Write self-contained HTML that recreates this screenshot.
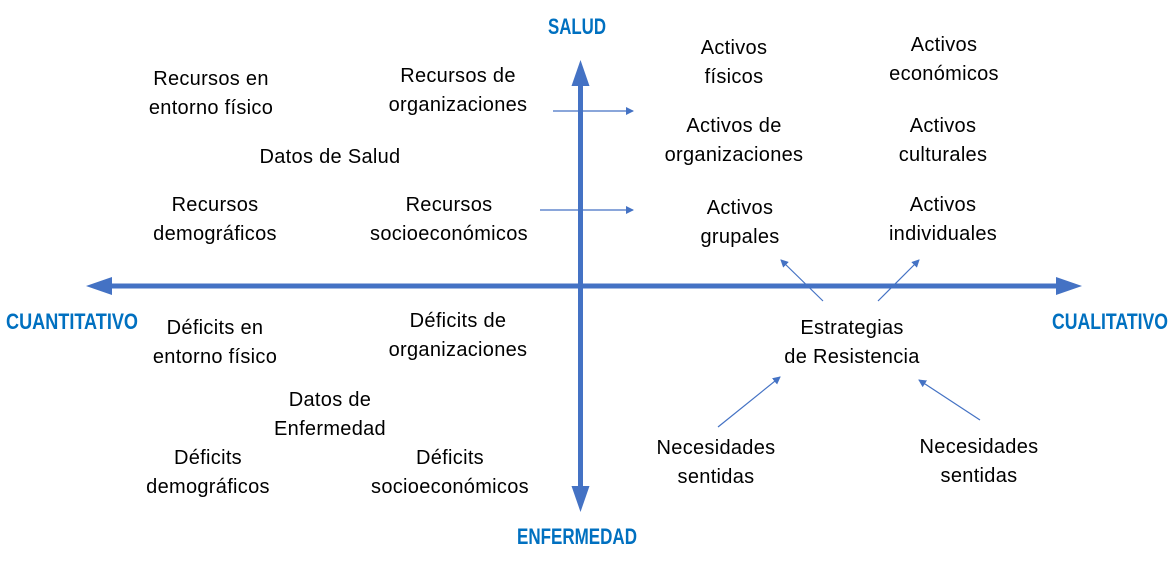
<!DOCTYPE html>
<html><head><meta charset="utf-8"><style>
html,body{margin:0;padding:0;background:#fff;}
svg{display:block;}
text{font-family:"Liberation Sans",sans-serif;font-size:20px;fill:#000;text-anchor:middle;letter-spacing:0.3px;}
.b{font-weight:bold;fill:#0070C0;font-size:22px;letter-spacing:0;}
</style></head><body>
<svg width="1168" height="561" viewBox="0 0 1168 561">
<defs>
<marker id="a" markerWidth="8" markerHeight="8" refX="7" refY="4" orient="auto" markerUnits="userSpaceOnUse"><path d="M0,0 L8,4 L0,8 Z" fill="#4472C4"/></marker>
</defs>
<rect x="110" y="283.5" width="946" height="5" fill="#4472C4"/>
<path d="M86,286 L112,277 L112,295 Z" fill="#4472C4"/>
<path d="M1082,286 L1056,277 L1056,295 Z" fill="#4472C4"/>
<rect x="578" y="84" width="5" height="404" fill="#4472C4"/>
<path d="M580.5,60 L571.5,86 L589.5,86 Z" fill="#4472C4"/>
<path d="M580.5,512 L571.5,486 L589.5,486 Z" fill="#4472C4"/>
<text class="b" x="577" y="34" textLength="58" lengthAdjust="spacingAndGlyphs">SALUD</text>
<text class="b" x="577" y="544" textLength="120" lengthAdjust="spacingAndGlyphs">ENFERMEDAD</text>
<text class="b" x="72" y="329" textLength="132" lengthAdjust="spacingAndGlyphs">CUANTITATIVO</text>
<text class="b" x="1110" y="329" textLength="116" lengthAdjust="spacingAndGlyphs">CUALITATIVO</text>
<g stroke="#4472C4" stroke-width="1.2" fill="none" marker-end="url(#a)">
<line x1="553" y1="111" x2="633" y2="111"/>
<line x1="540" y1="210" x2="633" y2="210"/>
<line x1="823" y1="301" x2="781" y2="260"/>
<line x1="878" y1="301" x2="919" y2="260"/>
<line x1="718" y1="427" x2="780" y2="377"/>
<line x1="980" y1="420" x2="919" y2="380"/>
</g>
<text x="211" y="85">Recursos en</text><text x="211" y="114">entorno físico</text>
<text x="458" y="82">Recursos de</text><text x="458" y="111">organizaciones</text>
<text x="330" y="163">Datos de Salud</text>
<text x="215" y="211">Recursos</text><text x="215" y="240">demográficos</text>
<text x="449" y="211">Recursos</text><text x="449" y="240">socioeconómicos</text>
<text x="734" y="54">Activos</text><text x="734" y="83">físicos</text>
<text x="944" y="51">Activos</text><text x="944" y="80">económicos</text>
<text x="734" y="132">Activos de</text><text x="734" y="161">organizaciones</text>
<text x="943" y="132">Activos</text><text x="943" y="161">culturales</text>
<text x="740" y="214">Activos</text><text x="740" y="243">grupales</text>
<text x="943" y="211">Activos</text><text x="943" y="240">individuales</text>
<text x="215" y="334">Déficits en</text><text x="215" y="363">entorno físico</text>
<text x="458" y="327">Déficits de</text><text x="458" y="356">organizaciones</text>
<text x="852" y="334">Estrategias</text><text x="852" y="363">de Resistencia</text>
<text x="330" y="406">Datos de</text><text x="330" y="435">Enfermedad</text>
<text x="208" y="464">Déficits</text><text x="208" y="493">demográficos</text>
<text x="450" y="464">Déficits</text><text x="450" y="493">socioeconómicos</text>
<text x="716" y="454">Necesidades</text><text x="716" y="483">sentidas</text>
<text x="979" y="453">Necesidades</text><text x="979" y="482">sentidas</text>
</svg>
</body></html>
